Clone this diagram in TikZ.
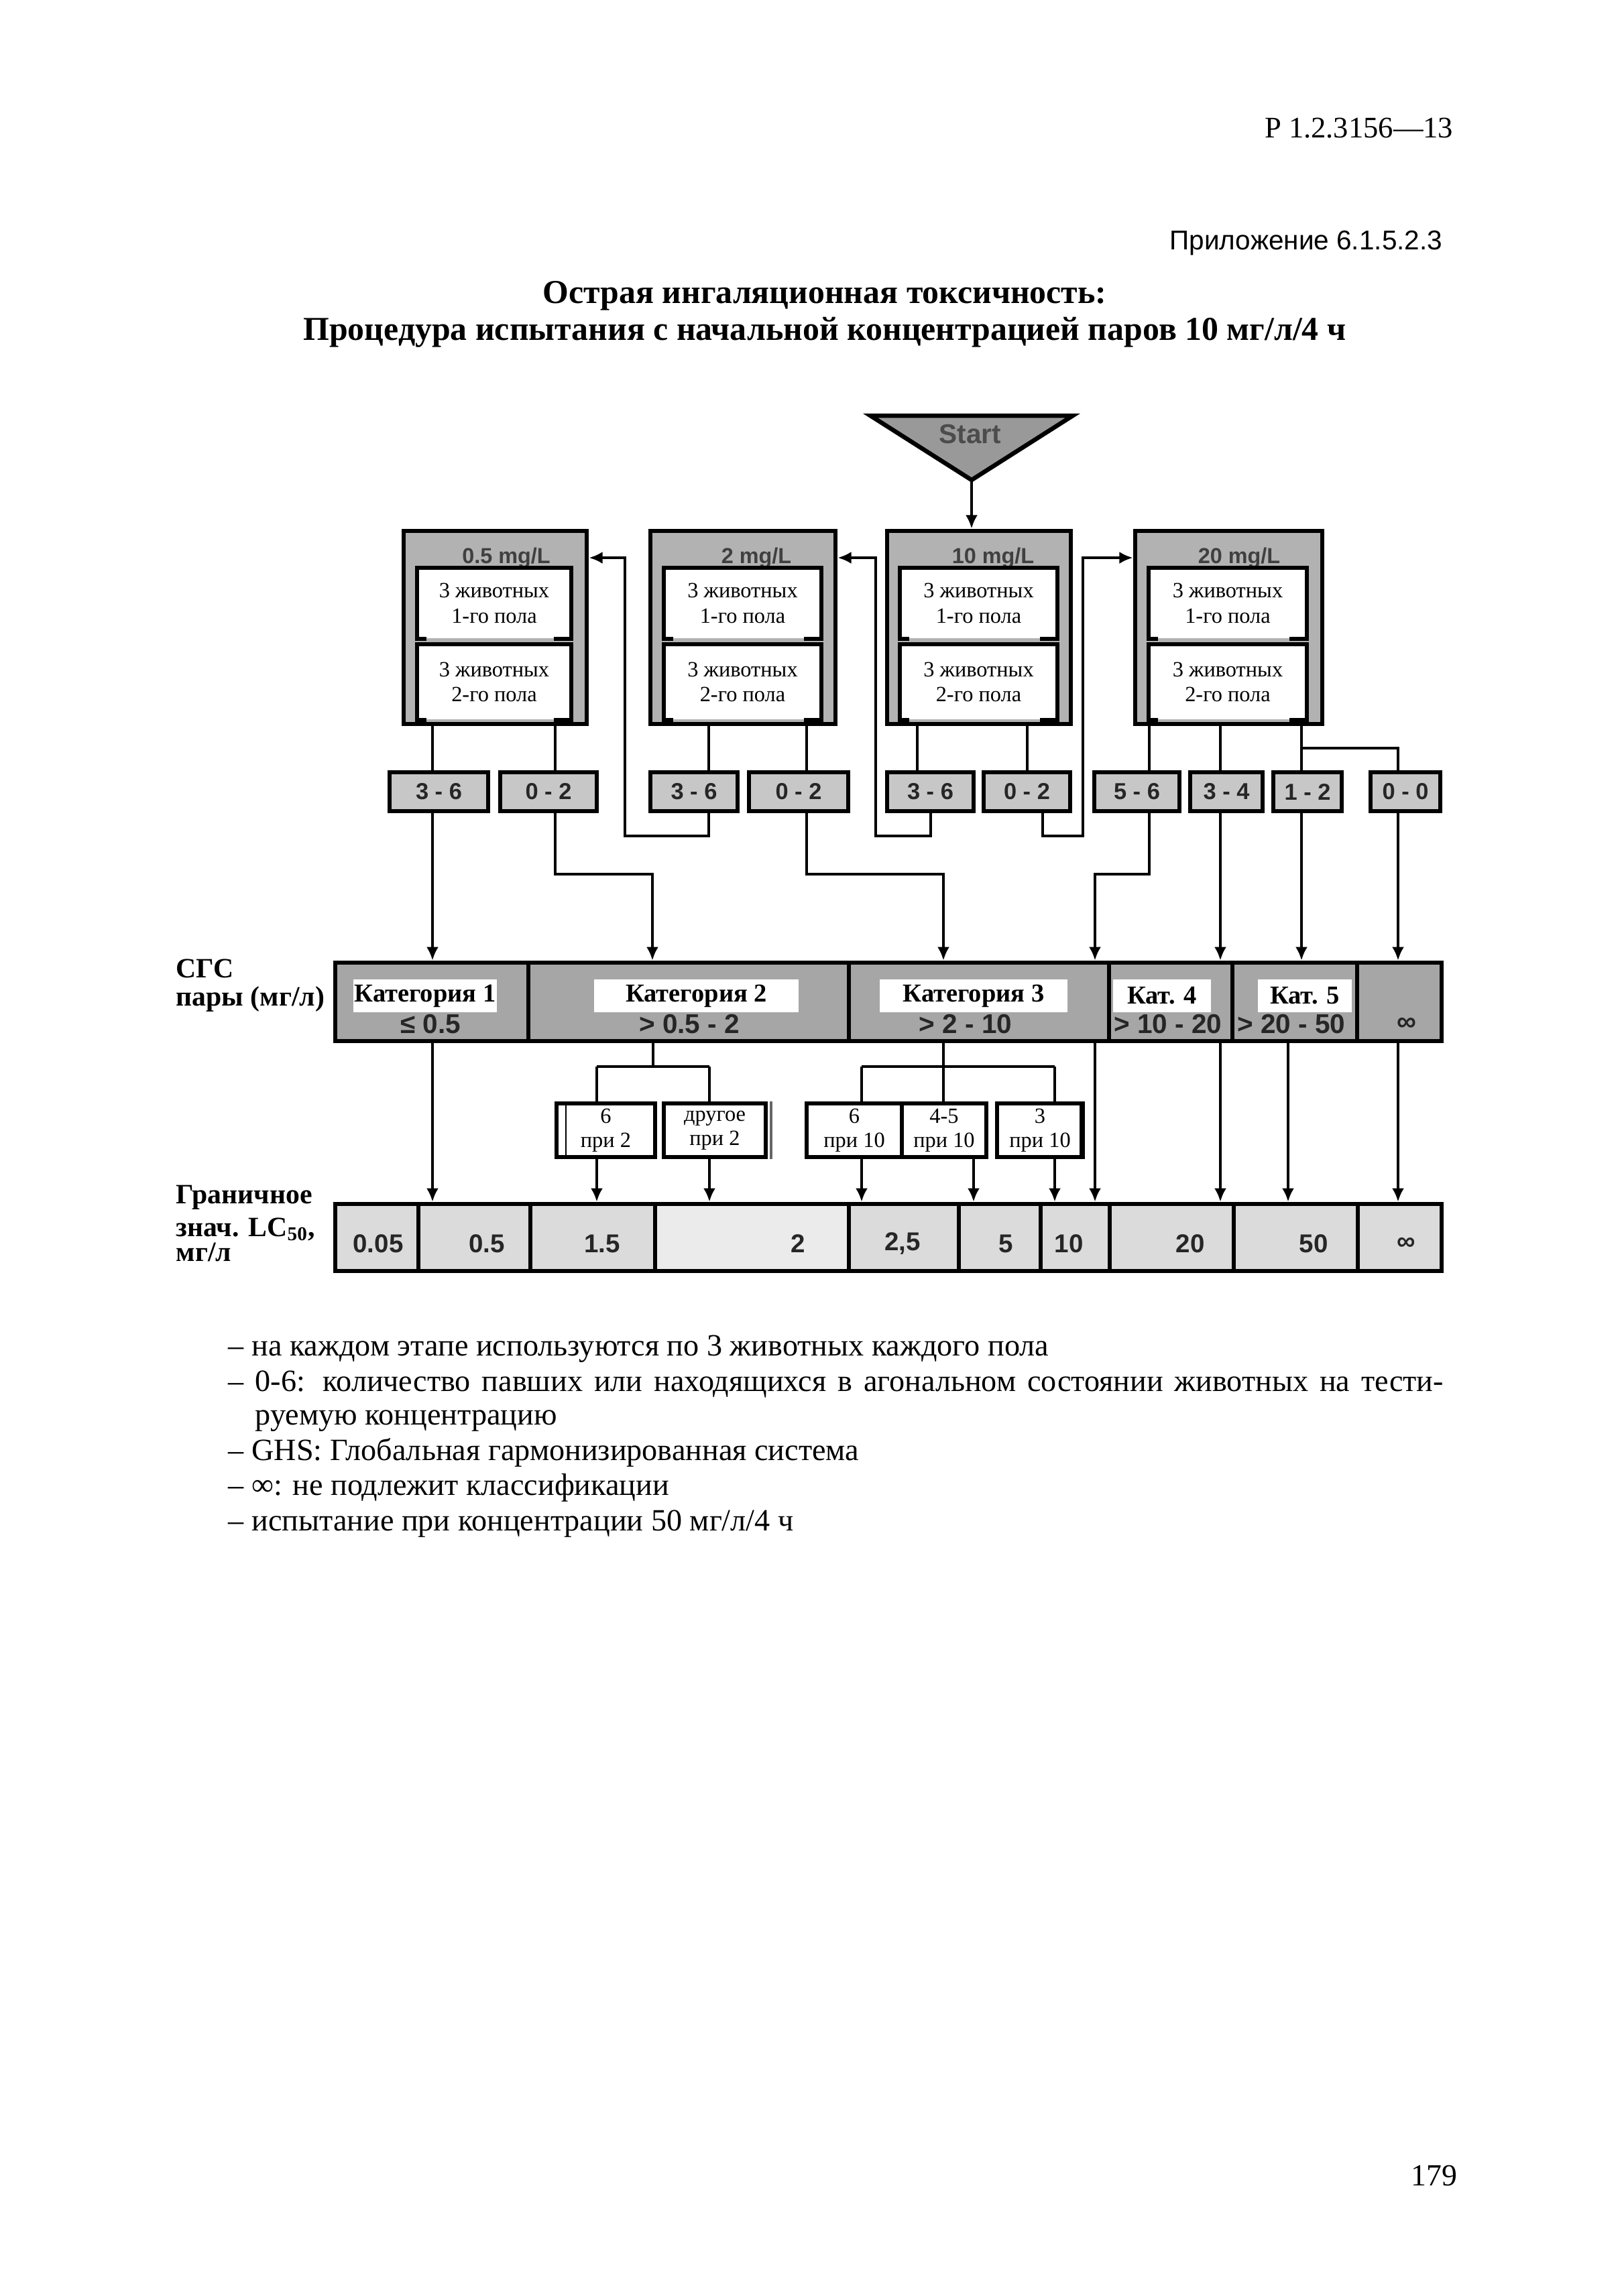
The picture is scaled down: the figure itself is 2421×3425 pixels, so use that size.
\documentclass[tikz,border=0pt]{standalone}
\usepackage{fontspec}
\setmainfont{Liberation Serif}
\setsansfont{Liberation Sans}
\usetikzlibrary{fit,arrows.meta,calc}

\newcommand{\inbox}[6]{%
  \node[inbg,fit={(#2,#3) (#4,#5)}] (#1) {};
  \draw[inl] ($(#1.south west)+(14,0)$) -- (#1.south west) -- (#1.north west) -- (#1.north east) -- (#1.south east) -- ++(-26,0);
  \node[intext] (#1t) at (#1.center) {#6};
}

\begin{document}
\begin{tikzpicture}[x=0.086741mm,y=-0.086741mm,
  conc/.style={draw,line width=1.7pt,fill=black!30,inner sep=0pt},
  inbg/.style={fill=white,inner sep=0pt},
  inl/.style={line width=1.5pt},
  intext/.style={font=\fontsize{8}{9.2}\selectfont,align=center,inner sep=0pt},
  hdr/.style={font=\sffamily\bfseries\fontsize{8}{9}\selectfont,text=black!75,inner sep=0pt},
  outc/.style={draw,line width=1.6pt,fill=black!22,inner sep=0pt},
  outt/.style={font=\sffamily\bfseries\fontsize{8.5}{9}\selectfont,text=black!85,inner sep=0pt},
  catcell/.style={draw,line width=1.6pt,fill=black!35,inner sep=0pt},
  catlab/.style={fill=white,inner sep=0pt},
  catt/.style={font=\bfseries\fontsize{9.5}{10}\selectfont,inner sep=0pt},
  catv/.style={font=\sffamily\bfseries\fontsize{10}{11}\selectfont,text=black!85,inner sep=0pt},
  lccell/.style={draw,line width=1.6pt,fill=black!14,inner sep=0pt},
  lcv/.style={font=\sffamily\bfseries\fontsize{9.5}{10}\selectfont,text=black!85,inner sep=0pt},
  brbox/.style={draw,line width=1.5pt,fill=white,inner sep=0pt},
  brt/.style={font=\fontsize{8}{8.8}\selectfont,align=center,inner sep=0pt},
  lbl/.style={font=\bfseries\fontsize{10.3}{11}\selectfont,anchor=base west,inner sep=0pt},
  conn/.style={line width=1.1pt},
  arr/.style={line width=1.1pt,-{Latex[length=5pt,width=4.5pt]}},
  body/.style={font=\fontsize{11.4}{13}\selectfont,anchor=base west,inner sep=0pt}
]
\useasboundingbox (0,0) rectangle (2421,3425);
\fill[white] (0,0) rectangle (2421,3425);

% ---------- page header ----------
\node[font=\fontsize{11}{13}\selectfont,anchor=base east,inner sep=0pt] (docnum) at (2168,205) {Р 1.2.3156—13};
\node[font=\sffamily\fontsize{10}{12}\selectfont,anchor=base east,inner sep=0pt] (appx) at (2152,372) {Приложение 6.1.5.2.3};
\node[font=\bfseries\fontsize{12.3}{14}\selectfont,anchor=base,inner sep=0pt] (title1) at (1230,452) {Острая ингаляционная токсичность:};
\node[font=\bfseries\fontsize{12.3}{14}\selectfont,anchor=base,inner sep=0pt] (title2) at (1230,507) {Процедура испытания с начальной концентрацией паров 10 мг/л/4 ч};

% ---------- start ----------
\draw[line width=1.6pt,fill=black!40] (1298,620) -- (1600,620) -- (1449,716) -- cycle;
\node[font=\sffamily\bfseries\fontsize{10}{11}\selectfont,text=black!70,inner sep=0pt] (start) at (1447,648) {Start};
\coordinate (apex) at (1449,716);

% ---------- concentration boxes ----------
\node[conc,fit={(602,792) (875,1080)}] (c05) {};
\node[conc,fit={(970,792) (1246,1080)}] (c2) {};
\node[conc,fit={(1323,792) (1597,1080)}] (c10) {};
\node[conc,fit={(1693,792) (1972,1080)}] (c20) {};
\node[hdr] (c05h) at (755,832) {0.5 mg/L};
\node[hdr] (c2h) at (1128,832) {2 mg/L};
\node[hdr] (c10h) at (1481,832) {10 mg/L};
\node[hdr] (c20h) at (1848,832) {20 mg/L};
\inbox{c05u}{623}{848}{851}{952}{3 животных\\1-го пола}
\inbox{c05l}{623}{962}{851}{1073}{3 животных\\2-го пола}
\inbox{c2u}{991}{848}{1224}{952}{3 животных\\1-го пола}
\inbox{c2l}{991}{962}{1224}{1073}{3 животных\\2-го пола}
\inbox{c10u}{1343}{848}{1576}{952}{3 животных\\1-го пола}
\inbox{c10l}{1343}{962}{1576}{1073}{3 животных\\2-го пола}
\inbox{c20u}{1714}{848}{1948}{952}{3 животных\\1-го пола}
\inbox{c20l}{1714}{962}{1948}{1073}{3 животных\\2-го пола}

\draw[arr] (apex) -- (c10.north -| apex);

% ---------- outcome boxes ----------
\node[outc,fit={(581,1152) (728,1210)}] (o05a) {};
\node[outc,fit={(746,1152) (890,1210)}] (o05b) {};
\node[outc,fit={(970,1152) (1100,1210)}] (o2a) {};
\node[outc,fit={(1117,1152) (1265,1210)}] (o2b) {};
\node[outc,fit={(1323,1152) (1452,1210)}] (o10a) {};
\node[outc,fit={(1467,1152) (1596,1210)}] (o10b) {};
\node[outc,fit={(1632,1152) (1759,1210)}] (o20a) {};
\node[outc,fit={(1775,1152) (1883,1210)}] (o20b) {};
\node[outc,fit={(1899,1152) (2001,1210)}] (o20c) {};
\node[outc,fit={(2044,1152) (2148,1210)}] (o20d) {};
\node[outt] (o05at) at (o05a.center) {3 - 6};
\node[outt] (o05bt) at (o05b.center) {0 - 2};
\node[outt] (o2at) at (o2a.center) {3 - 6};
\node[outt] (o2bt) at (o2b.center) {0 - 2};
\node[outt] (o10at) at (o10a.center) {3 - 6};
\node[outt] (o10bt) at (o10b.center) {0 - 2};
\node[outt] (o20at) at (o20a.center) {5 - 6};
\node[outt] (o20bt) at (o20b.center) {3 - 4};
\node[outt] (o20ct) at (o20c.center) {1 - 2};
\node[outt] (o20dt) at (o20d.center) {0 - 0};

% ---------- category row ----------
\node[catcell,fit={(500,1436) (788,1553)}] (cat1) {};
\node[catcell,fit={(788,1436) (1266,1553)}] (cat2) {};
\node[catcell,fit={(1266,1436) (1654,1553)}] (cat3) {};
\node[catcell,fit={(1654,1436) (1838,1553)}] (cat4) {};
\node[catcell,fit={(1838,1436) (2024,1553)}] (cat5) {};
\node[catcell,fit={(2024,1436) (2150,1553)}] (cat6) {};
\node[catlab,fit={(527,1461) (741,1510)}] (cat1l) {};
\node[catlab,fit={(886,1461) (1191,1510)}] (cat2l) {};
\node[catlab,fit={(1312,1461) (1592,1510)}] (cat3l) {};
\node[catlab,fit={(1660,1461) (1806,1510)}] (cat4l) {};
\node[catlab,fit={(1876,1461) (2016,1510)}] (cat5l) {};
\node[catt] (cat1t) at (cat1l.center) {Категория 1};
\node[catt] (cat2t) at (cat2l.center) {Категория 2};
\node[catt] (cat3t) at (cat3l.center) {Категория 3};
\node[catt] (cat4t) at (cat4l.center) {Кат. 4};
\node[catt] (cat5t) at (cat5l.center) {Кат. 5};
\node[catv] (cat1v) at (642,1528) {≤ 0.5};
\node[catv] (cat2v) at (1028,1528) {> 0.5 - 2};
\node[catv] (cat3v) at (1440,1528) {> 2 - 10};
\node[catv] (cat4v) at (1742,1528) {> 10 - 20};
\node[catv] (cat5v) at (1926,1528) {> 20 - 50};
\node[catv] (cat6v) at (2098,1528) {∞};

% ---------- left labels ----------
\node[lbl] (sgs1) at (262,1458) {СГС};
\node[lbl] (sgs2) at (262,1500) {пары (мг/л)};
\node[lbl] (gr1) at (262,1795) {Граничное};
\node[lbl] (gr2) at (262,1844) {знач. LC\textsubscript{50},};
\node[lbl] (gr3) at (262,1881) {мг/л};

% ---------- branch boxes ----------
\node[brbox,fit={(830,1646) (977,1726)}] (b1) {};
\node[brbox,fit={(990,1646) (1142,1726)}] (b2) {};
\node[brbox,fit={(1203,1646) (1345,1726)}] (b3) {};
\node[brbox,fit={(1345,1646) (1471,1726)}] (b4) {};
\node[brbox,fit={(1487,1646) (1615,1726)}] (b5) {};
\draw[line width=0.6pt] ($(b1.north west)+(17,4)$) -- ($(b1.south west)+(17,-4)$);
\draw[line width=0.6pt] ($(b5.north east)+(-7,4)$) -- ($(b5.south east)+(-7,-4)$);
\draw[line width=0.8pt,black!60] ($(b2.north east)+(5,0)$) -- ($(b2.south east)+(5,0)$);
\node[brt] (b1t) at (b1.center) {6\\при 2};
\node[brt] (b2t) at (b2.center) {другое\\при 2};
\node[brt] (b3t) at (b3.center) {6\\при 10};
\node[brt] (b4t) at (b4.center) {4-5\\при 10};
\node[brt] (b5t) at (b5.center) {3\\при 10};

% ---------- LC50 row ----------
\node[lccell,fit={(500,1796) (624,1896)}] (lc1) {};
\node[lccell,fit={(624,1796) (791,1896)}] (lc2) {};
\node[lccell,fit={(791,1796) (977,1896)}] (lc3) {};
\node[lccell,fill=black!8,fit={(977,1796) (1266,1896)}] (lc4) {};
\node[lccell,fit={(1266,1796) (1430,1896)}] (lc5) {};
\node[lccell,fit={(1430,1796) (1552,1896)}] (lc6) {};
\node[lccell,fit={(1552,1796) (1655,1896)}] (lc7) {};
\node[lccell,fit={(1655,1796) (1840,1896)}] (lc8) {};
\node[lccell,fit={(1840,1796) (2025,1896)}] (lc9) {};
\node[lccell,fit={(2025,1796) (2150,1896)}] (lc10) {};
\node[lcv] (lc1v) at (564,1855) {0.05};
\node[lcv] (lc2v) at (726,1855) {0.5};
\node[lcv] (lc3v) at (898,1855) {1.5};
\node[lcv] (lc4v) at (1190,1855) {2};
\node[lcv] (lc5v) at (1346,1855) {2,5};
\node[lcv] (lc6v) at (1500,1855) {5};
\node[lcv] (lc7v) at (1594,1855) {10};
\node[lcv] (lc8v) at (1775,1855) {20};
\node[lcv] (lc9v) at (1959,1855) {50};
\node[lcv] (lc10v) at (2097,1855) {∞};

% ---------- connector coordinates ----------
\coordinate (k05a) at (645,0);
\coordinate (k05b) at (828,0);
\coordinate (k2a) at (1057,0);
\coordinate (k2b) at (1203,0);
\coordinate (k10a) at (1368,0);
\coordinate (k10b) at (1532,0);
\coordinate (k20a) at (1714,0);
\coordinate (k20b) at (1820,0);
\coordinate (k20c) at (1941,0);
\coordinate (k5b) at (1921,0);
\coordinate (t1) at (828,1304);
\coordinate (t2) at (973,1304);
\coordinate (t3) at (1057,1247);
\coordinate (t4) at (932,1247);
\coordinate (t5) at (932,832);
\coordinate (t6) at (1203,1304);
\coordinate (t7) at (1407,1304);
\coordinate (t8) at (1388,1247);
\coordinate (t9) at (1306,1247);
\coordinate (t10) at (1306,832);
\coordinate (t11) at (1555,1247);
\coordinate (t12) at (1615,1247);
\coordinate (t13) at (1615,832);
\coordinate (t14) at (1941,1116);
\coordinate (t15) at (2085,1116);
\coordinate (t16) at (1714,1304);
\coordinate (t17) at (1633,1304);
\coordinate (t18) at (974,1591);
\coordinate (t19) at (890,1591);
\coordinate (t20) at (1058,1591);
\coordinate (t21) at (1407,1591);
\coordinate (t22) at (1285,1591);
\coordinate (t23) at (1573,1591);
\coordinate (k4b) at (1452,0);

% ---------- connectors: concentration -> outcome ----------
\draw[conn] (c05.south -| k05a) -- (o05a.north -| k05a);
\draw[conn] (c05.south -| k05b) -- (o05b.north -| k05b);
\draw[conn] (c2.south -| k2a) -- (o2a.north -| k2a);
\draw[conn] (c2.south -| k2b) -- (o2b.north -| k2b);
\draw[conn] (c10.south -| k10a) -- (o10a.north -| k10a);
\draw[conn] (c10.south -| k10b) -- (o10b.north -| k10b);
\draw[conn] (c20.south -| k20a) -- (o20a.north -| k20a);
\draw[conn] (c20.south -| k20b) -- (o20b.north -| k20b);
\draw[conn] (c20.south -| k20c) -- (o20c.north -| k20c);
\draw[conn] (t14) -- (t15) -- (o20d.north -| t15);

% ---------- outcome -> next step / category ----------
\draw[arr] (o05a.south -| k05a) -- (cat1.north -| k05a);
\draw[arr] (o05b.south -| t1) -- (t1) -- (t2) -- (cat2.north -| t2);
\draw[arr] (o2a.south -| t3) -- (t3) -- (t4) -- (t5) -- (c05.east |- t5);
\draw[arr] (o2b.south -| t6) -- (t6) -- (t7) -- (cat3.north -| t7);
\draw[arr] (o10a.south -| t8) -- (t8) -- (t9) -- (t10) -- (c2.east |- t10);
\draw[arr] (o10b.south -| t11) -- (t11) -- (t12) -- (t13) -- (c20.west |- t13);
\draw[arr] (o20a.south -| t16) -- (t16) -- (t17) -- (cat3.north -| t17);
\draw[arr] (o20b.south -| k20b) -- (cat4.north -| k20b);
\draw[arr] (o20c.south -| k20c) -- (cat5.north -| k20c);
\draw[arr] (o20d.south -| t15) -- (cat6.north -| t15);

% ---------- category -> LC50 ----------
\draw[arr] (cat1.south -| k05a) -- (lc2.north -| k05a);
\draw[conn] (cat2.south -| t18) -- (t18);
\draw[conn] (t19) -- (t20);
\draw[conn] (t19) -- (b1.north -| t19);
\draw[conn] (t20) -- (b2.north -| t20);
\draw[arr] (b1.south -| t19) -- (lc3.north -| t19);
\draw[arr] (b2.south -| t20) -- (lc4.north -| t20);
\draw[conn] (cat3.south -| t21) -- (b4.north -| t21);
\draw[conn] (t22) -- (t23);
\draw[conn] (t22) -- (b3.north -| t22);
\draw[conn] (t23) -- (b5.north -| t23);
\draw[arr] (b3.south -| t22) -- (lc5.north -| t22);
\draw[arr] (b4.south -| k4b) -- (lc6.north -| k4b);
\draw[arr] (b5.south -| t23) -- (lc7.north -| t23);
\draw[arr] (cat3.south -| t17) -- (lc7.north -| t17);
\draw[arr] (cat4.south -| k20b) -- (lc8.north -| k20b);
\draw[arr] (cat5.south -| k5b) -- (lc9.north -| k5b);
\draw[arr] (cat6.south -| t15) -- (lc10.north -| t15);

% ---------- notes ----------
\node[body] (n1) at (340,2022) {– на каждом этапе используются по 3 животных каждого пола};
\node[body] (n2) at (340,2075) {\makebox[157.2mm][s]{– 0-6: количество павших или находящихся в агональном состоянии животных на тести-}};
\node[body] (n3) at (380,2125) {руемую концентрацию};
\node[body] (n4) at (340,2178) {– GHS: Глобальная гармонизированная система};
\node[body] (n5) at (340,2230) {– ∞: не подлежит классификации};
\node[body] (n6) at (340,2283) {– испытание при концентрации 50 мг/л/4 ч};

\node[font=\fontsize{11.3}{13}\selectfont,anchor=base east,inner sep=0pt] (pageno) at (2174,3260) {179};
\end{tikzpicture}
\end{document}
